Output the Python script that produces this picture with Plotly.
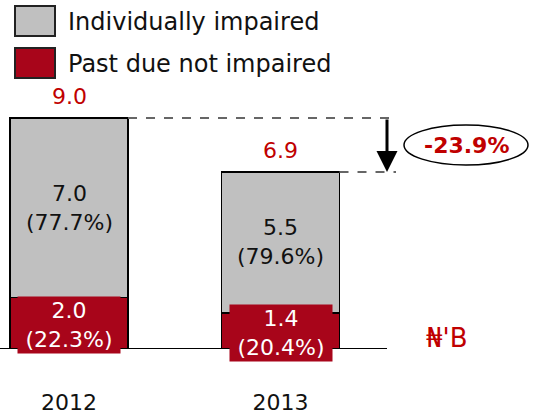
import plotly.graph_objects as go

years = ["2012", "2013"]
past_due = [2.0, 1.4]
indiv = [7.0, 5.5]
past_due_pct = ["22.3%", "20.4%"]
indiv_pct = ["77.7%", "79.6%"]
totals = [9.0, 6.9]
change_label = "-23.9%"
unit_label = "₦'B"

RED = "#A8051A"
GRAY = "#C0C0C0"
TXT_RED = "#C00000"
FONT = "DejaVu Sans"
FS = 22

W, H = 536, 417
BASE_PX = 349
PX_PER_UNIT = 25.67
X0_PX, PX_PER_CAT = 69, 211.5
BW = 0.558

xs = list(range(len(years)))
fig = go.Figure()
fig.add_bar(x=xs, y=past_due, name="Past due not impaired", width=BW,
            marker=dict(color=RED, line=dict(color="black", width=1.5)))
fig.add_bar(x=xs, y=indiv, base=past_due, name="Individually impaired", width=BW,
            marker=dict(color=GRAY, line=dict(color="black", width=1.5)))

def px2x(p):
    return (p - X0_PX) / PX_PER_CAT

def py2y(p):
    return (BASE_PX - p) / PX_PER_UNIT

x_rng = [px2x(0), px2x(W)]
y_rng = [0, BASE_PX / PX_PER_UNIT]

ann = []
for i in xs:
    ann.append(dict(x=i, y=past_due[i] + indiv[i] / 2, text=f"{indiv[i]:.1f}<br>({indiv_pct[i]})",
                    showarrow=False, font=dict(family=FONT, size=FS, color="#111")))
    ann.append(dict(x=i, y=past_due[i] / 2, yshift=-2, text=f"{past_due[i]:.1f}<br>({past_due_pct[i]})",
                    showarrow=False, font=dict(family=FONT, size=FS, color="white"),
                    bgcolor=RED, width=100, borderpad=1))
    ann.append(dict(x=i, y=totals[i], yshift=21, text=f"{totals[i]:.1f}", showarrow=False,
                    font=dict(family=FONT, size=FS, color=TXT_RED)))

arrow_x = px2x(387)
dash_end = px2x(396)
ann.append(dict(x=arrow_x, y=totals[1], ax=arrow_x, ay=totals[0], axref="x", ayref="y",
                xref="x", yref="y", text="", showarrow=True, arrowhead=2, arrowsize=1.4,
                arrowwidth=3, arrowcolor="black"))
ex0, ex1 = px2x(404), px2x(528)
ey0, ey1 = py2y(165), py2y(125)
ann.append(dict(x=(ex0 + ex1) / 2, y=(ey0 + ey1) / 2, text=f"<b>{change_label}</b>", showarrow=False,
                font=dict(family=FONT, size=FS, color=TXT_RED)))
ann.append(dict(x=px2x(447), y=py2y(338), text=unit_label, showarrow=False,
                font=dict(family=FONT, size=FS + 4, color=TXT_RED)))

shapes = []
shapes.append(dict(type="line", xref="x", yref="y", x0=x_rng[0], x1=px2x(387), y0=0, y1=0,
                   line=dict(color="black", width=2)))
for i in xs:
    shapes.append(dict(type="line", xref="x", yref="y", x0=i + BW / 2, x1=dash_end,
                       y0=totals[i], y1=totals[i], line=dict(color="#666", width=2, dash="dash")))
shapes.append(dict(type="circle", xref="x", yref="y", x0=ex0, x1=ex1, y0=ey0, y1=ey1,
                   line=dict(color="black", width=1.5)))

legend_items = [("Individually impaired", GRAY, 6), ("Past due not impaired", RED, 48)]
for name, col, top in legend_items:
    shapes.append(dict(type="rect", xref="paper", yref="paper",
                       x0=15 / W, x1=55 / W, y0=(BASE_PX - top - 30) / BASE_PX, y1=(BASE_PX - top) / BASE_PX,
                       fillcolor=col, line=dict(color="#222", width=2)))
    ann.append(dict(xref="paper", yref="paper", x=66 / W, y=(BASE_PX - top - 16) / BASE_PX,
                    xanchor="left", yanchor="middle", text=name, showarrow=False,
                    font=dict(family=FONT, size=24, color="#111")))

fig.update_layout(
    width=W, height=H, barmode="stack", showlegend=False,
    margin=dict(l=0, r=0, t=0, b=H - BASE_PX),
    paper_bgcolor="white", plot_bgcolor="white",
    xaxis=dict(range=x_rng, tickmode="array", tickvals=xs, ticktext=years,
               showgrid=False, zeroline=False, showline=False, ticks="",
               tickfont=dict(family=FONT, size=FS, color="#111"), ticklabelstandoff=38),
    yaxis=dict(range=y_rng, visible=False, showgrid=False, zeroline=False),
    annotations=ann, shapes=shapes,
)
fig.write_html("out.html", config={"displayModeBar": False},
               post_script="document.body.style.margin='0';document.body.style.overflow='hidden';")
